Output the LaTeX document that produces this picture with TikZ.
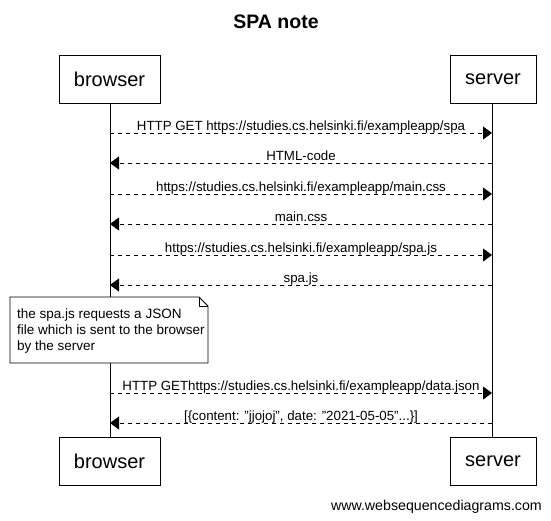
\documentclass[tikz,border=0pt]{standalone}
\usepackage{fontspec}
\setmainfont{Liberation Sans}
\usetikzlibrary{arrows.meta}
\begin{document}
\begin{tikzpicture}[x=1pt,y=-1pt,
  actor/.style={draw,line width=0.9pt,minimum height=48pt,inner sep=0pt,font=\fontsize{20}{24}\selectfont},
  msg/.style={line width=0.8pt,dash pattern=on 4pt off 4pt,-{Triangle[length=9pt,width=13pt]}},
  lbl/.style={font=\fontsize{13.3}{16}\selectfont,anchor=base,inner sep=0pt},
  life/.style={line width=0.9pt},
  notebox/.style={draw,fill=white,line width=0.8pt}]
\useasboundingbox (0,0) rectangle (551,520);
% title
\node[font=\fontsize{19.5}{23}\selectfont\bfseries] (title) at (276,22) {SPA note};
% actors
\node[actor,minimum width=101pt] (bt) at (109.5,79) {browser};
\node[actor,minimum width=86pt] (st) at (493,79) {server};
\node[actor,minimum width=101pt] (bb) at (109.5,461) {browser};
\node[actor,minimum width=86pt] (sb) at (493,461) {server};
% lifelines
\coordinate (bl) at (110,0);
\coordinate (sl) at (492,0);
\draw[life] (bt.south -| bl) -- (bb.north -| bl);
\draw[life] (st.south -| sl) -- (sb.north -| sl);
% message coordinates
\foreach \i/\y in {1/133,2/163,3/194,4/224,5/255,6/285,7/393,8/423}{
  \coordinate (b\i) at (110,\y);
  \coordinate (s\i) at (492,\y);
}
\draw[msg] (b1) -- (s1);
\draw[msg] (s2) -- (b2);
\draw[msg] (b3) -- (s3);
\draw[msg] (s4) -- (b4);
\draw[msg] (b5) -- (s5);
\draw[msg] (s6) -- (b6);
\draw[msg] (b7) -- (s7);
\draw[msg] (s8) -- (b8);
\node[lbl] (l1) at (301,130) {HTTP GET https://studies.cs.helsinki.fi/exampleapp/spa};
\node[lbl] (l2) at (301,160) {HTML-code};
\node[lbl] (l3) at (301,191) {https://studies.cs.helsinki.fi/exampleapp/main.css};
\node[lbl] (l4) at (301,221) {main.css};
\node[lbl] (l5) at (301,252) {https://studies.cs.helsinki.fi/exampleapp/spa.js};
\node[lbl] (l6) at (301,282) {spa.js};
\node[lbl] (l7) at (301,390) {HTTP GEThttps://studies.cs.helsinki.fi/exampleapp/data.json};
\node[lbl] (l8) at (301,420) {[\{content: "jjojoj", date: "2021-05-05"...\}]};
% note
\draw[notebox] (10,297) -- (199,297) -- (208,306) -- (208,363) -- (10,363) -- cycle;
\draw[line width=0.8pt] (199,297) -- (199,306) -- (208,306);
\node[anchor=north west,inner sep=0pt,align=left,font=\fontsize{13.5}{16}\selectfont] (note) at (17,309)
  {the spa.js requests a JSON\\file which is sent to the browser\\by the server};
% footer
\node[anchor=base east,inner sep=0pt,font=\fontsize{14.2}{17}\selectfont] (footer) at (542,510) {www.websequencediagrams.com};
\end{tikzpicture}
\end{document}
